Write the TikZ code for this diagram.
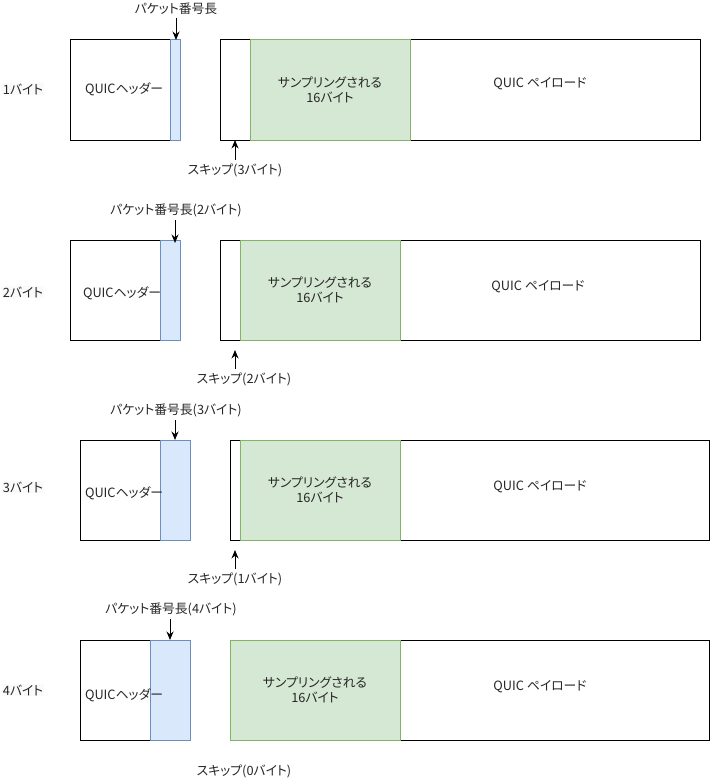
\documentclass[tikz,border=0pt]{standalone}
\usepackage{fontspec}
\setmainfont{Noto Sans CJK JP}[RawFeature=+palt]
\usetikzlibrary{positioning, arrows.meta}
\definecolor{pnline}{HTML}{6C8EBF}
\definecolor{pnfill}{HTML}{DAE8FC}
\definecolor{smpline}{HTML}{82B366}
\definecolor{smpfill}{HTML}{D5E8D4}
\tikzset{
	every node/.append style={
		font=\fontsize{12.8}{15}\selectfont,
		text=black!85,
	},
	layer/.style={
		draw,
		line width=1pt,
		inner sep=0pt,
		outer sep=0pt,
		minimum height=100pt,
	},
	pnbox/.style={
		layer,
		draw=pnline,
		fill=pnfill,
	},
	smpbox/.style={
		layer,
		draw=smpline,
		fill=smpfill,
		align=center,
	},
	labe/.style={
		inner sep=3pt,
	},
	rowlabel/.style={
		labe,
		fill=gray!4,
		inner sep=1pt,
	},
	arrow/.style={
		-{Stealth[length=8.5pt,width=7pt]},
		line width=0.9pt,
	},
}

\begin{document}
\begin{tikzpicture}[x=1pt, y=-1pt]
\useasboundingbox (0,0) rectangle (710,781);

% 1 byte
\node(rowa)[rowlabel] at (23,89) {1バイト};
\node(hdra)[layer, minimum width=100pt, anchor=north west] at (70,40) {};
\node(pna)[pnbox, minimum width=10pt, right=0pt of hdra] {};
\node[labe] at (124,89) {QUICヘッダー};
\node(pkta)[layer, minimum width=480pt, anchor=north west] at (220,40) {};
\node(smpa)[smpbox, minimum width=160pt, anchor=north west] at (250,40) {サンプリングされる\\16バイト};
\node[labe] at (540,84) {QUIC ペイロード};

\node(pnla)[labe] at (176,9) {パケット番号長};
\coordinate(pnpa) at (176,40);
\draw[arrow] (pnpa |- pnla.south) -- (pnpa);

\node(skla)[labe] at (235,170) {スキップ(3バイト)};
\coordinate(skpa) at (235,140);
\draw[arrow] (skpa |- skla.north) -- (skpa);

% 2 bytes
\node(rowb)[rowlabel] at (23,292) {2バイト};
\node(hdrb)[layer, minimum width=90pt, anchor=north west] at (70,240) {};
\node(pnb)[pnbox, minimum width=20pt, right=0pt of hdrb] {};
\node[labe] at (122,293) {QUICヘッダー};
\node(pktb)[layer, minimum width=480pt, anchor=north west] at (220,240) {};
\node(smpb)[smpbox, minimum width=160pt, anchor=north west] at (240,240) {サンプリングされる\\16バイト};
\node[labe] at (538,287) {QUIC ペイロード};

\node(pnlb)[labe] at (176,210) {パケット番号長(2バイト)};
\coordinate(pnpb) at (175,243);
\draw[arrow] (pnpb |- pnlb.south) -- (pnpb);

\node(sklb)[labe] at (244,379) {スキップ(2バイト)};
\coordinate(skpb) at (235,350);
\draw[arrow] (skpb |- sklb.north) -- (skpb);

% 3 bytes
\node(rowc)[rowlabel] at (23,487) {3バイト};
\node(hdrc)[layer, minimum width=80pt, anchor=north west] at (80,440) {};
\node(pnc)[pnbox, minimum width=30pt, right=0pt of hdrc] {};
\node[labe] at (124,493) {QUICヘッダー};
\node(pktc)[layer, minimum width=479pt, anchor=north west] at (230,440) {};
\node(smpc)[smpbox, minimum width=160pt, anchor=north west] at (240,440) {サンプリングされる\\16バイト};
\node[labe] at (540,487) {QUIC ペイロード};

\node(pnlc)[labe] at (176,410) {パケット番号長(3バイト)};
\coordinate(pnpc) at (175,440);
\draw[arrow] (pnpc |- pnlc.south) -- (pnpc);

\node(sklc)[labe] at (235,579) {スキップ(1バイト)};
\coordinate(skpc) at (235,550);
\draw[arrow] (skpc |- sklc.north) -- (skpc);

% 4 bytes
\node(rowd)[rowlabel] at (23,690) {4バイト};
\node(hdrd)[layer, minimum width=70pt, anchor=north west] at (80,640) {};
\node(pnd)[pnbox, minimum width=40pt, right=0pt of hdrd] {};
\node[labe] at (124,695) {QUICヘッダー};
\node(pktd)[layer, minimum width=479pt, anchor=north west] at (230,640) {};
\node(smpd)[smpbox, minimum width=170pt, anchor=north west] at (230,640) {サンプリングされる\\16バイト};
\node[labe] at (540,687) {QUIC ペイロード};

\node(pnld)[labe] at (171,609) {パケット番号長(4バイト)};
\coordinate(pnpd) at (170,640);
\draw[arrow] (pnpd |- pnld.south) -- (pnpd);

\node(skld)[labe] at (244,771) {スキップ(0バイト)};

\end{tikzpicture}
\end{document}
